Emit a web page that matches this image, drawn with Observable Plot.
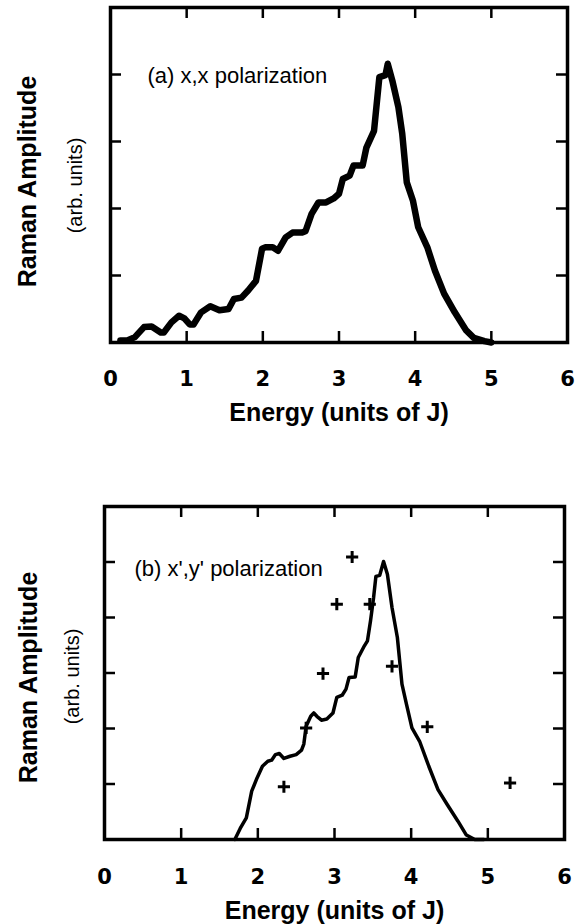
<!DOCTYPE html>
<html><head><meta charset="utf-8">
<script src="https://cdn.jsdelivr.net/npm/d3@7"></script>
<script src="https://cdn.jsdelivr.net/npm/@observablehq/plot@0.6"></script>
<style>body{margin:0;background:#fff} svg{display:block}</style>
</head><body><div id="chart"></div>
<script>
// Tick values
const xTickLabels = [0, 1, 2, 3, 4, 5, 6];
const xInnerTicks = [1, 2, 3, 4, 5];
const yTicksA = [1, 2, 3, 4];
const yTicksB = [1, 2, 3, 4, 5];

// Panel (a): x,x polarization
const energyA = [0.13,0.22,0.32,0.44,0.54,0.66,0.70,0.80,0.90,0.97,1.04,1.09,1.19,1.31,1.43,1.55,1.62,1.72,1.81,1.91,1.99,2.03,2.13,2.20,2.30,2.39,2.51,2.56,2.64,2.73,2.83,2.93,3.00,3.05,3.14,3.19,3.31,3.36,3.46,3.53,3.61,3.64,3.70,3.78,3.83,3.89,3.97,4.04,4.16,4.26,4.38,4.52,4.67,4.77,4.91,5.00];
const ampA    = [0.03,0.03,0.08,0.23,0.24,0.15,0.15,0.30,0.40,0.36,0.27,0.27,0.45,0.54,0.48,0.50,0.65,0.67,0.78,0.92,1.40,1.42,1.42,1.37,1.57,1.64,1.64,1.66,1.92,2.09,2.09,2.15,2.22,2.44,2.49,2.64,2.64,2.91,3.16,3.96,3.99,4.16,3.91,3.51,3.12,2.39,2.12,1.72,1.42,1.07,0.73,0.45,0.18,0.07,0.02,0.00];

// Panel (b): x',y' polarization
const energyB = [1.70,1.77,1.85,1.92,1.99,2.06,2.13,2.18,2.23,2.28,2.34,2.42,2.50,2.57,2.60,2.63,2.69,2.73,2.77,2.83,2.90,2.98,3.03,3.10,3.15,3.19,3.27,3.31,3.39,3.43,3.47,3.51,3.54,3.59,3.64,3.69,3.75,3.82,3.88,3.94,4.01,4.11,4.23,4.35,4.47,4.61,4.72,4.83,4.95];
const ampB    = [0.00,0.20,0.39,0.87,1.11,1.32,1.41,1.43,1.53,1.55,1.46,1.50,1.53,1.61,1.72,2.04,2.22,2.28,2.22,2.15,2.17,2.28,2.56,2.60,2.71,2.92,2.93,3.28,3.49,3.58,3.94,4.36,4.74,4.76,5.01,4.78,4.18,3.64,2.80,2.43,2.01,1.77,1.32,0.90,0.63,0.33,0.08,0.00,0.00];
const crossEnergy = [2.34,2.63,2.85,3.03,3.23,3.46,3.75,4.21,5.29];
const crossAmp    = [0.95,2.01,2.99,4.24,5.09,4.24,3.12,2.03,1.02];

const FONT = "'Liberation Sans', Arial, Helvetica, sans-serif";
const DIGIT_FONT = "'DejaVu Sans', 'Liberation Sans', Arial, sans-serif";

function panel(o) {
  const innerW = o.width - o.ml - o.mr;
  const innerH = o.height - o.mt - o.mb;
  const line = o.energy.map((e, i) => ({e, a: o.amp[i]}));
  const TL = 11, TW = 2.5;
  const marks = [
    Plot.tickX(xInnerTicks, {x: d => d, insetTop: innerH - TL, strokeWidth: TW}),
    Plot.tickX(xInnerTicks, {x: d => d, insetBottom: innerH - TL, strokeWidth: TW}),
    Plot.tickY(o.yTicks, {y: d => d, insetRight: innerW - TL, strokeWidth: TW}),
    Plot.tickY(o.yTicks, {y: d => d, insetLeft: innerW - TL, strokeWidth: TW}),
    Plot.line(line, {x: "e", y: "a", strokeWidth: o.lw, strokeLinejoin: "round", strokeLinecap: "round"}),
    Plot.frame({strokeWidth: 3.5}),
    Plot.text(xTickLabels, {x: d => d, frameAnchor: "bottom", dy: o.tickDy, text: d => String(d), fontSize: 21, fontWeight: "bold", fontFamily: DIGIT_FONT, lineAnchor: "middle"}),
    Plot.text(["Energy (units of J)"], {frameAnchor: "bottom", dy: o.labDy, text: d => d, fontSize: 25, fontWeight: "bold", lineAnchor: "middle"}),
    Plot.text(["Raman Amplitude"], {frameAnchor: "left", dx: o.ramDx, dy: o.ramDy, text: d => d, rotate: -90, fontSize: 25, fontWeight: "bold", textAnchor: "middle", lineAnchor: "middle"}),
    Plot.text(["(arb. units)"], {frameAnchor: "left", dx: o.arbDx, dy: o.arbDy, text: d => d, rotate: -90, fontSize: 20, textAnchor: "middle", lineAnchor: "middle"}),
    Plot.text([o.note], {frameAnchor: "top-left", dx: o.noteDx, dy: o.noteDy, text: d => d, fontSize: 22, textAnchor: "start", lineAnchor: "middle"})
  ];
  if (o.crosses) {
    marks.push(Plot.dot(o.crosses, {x: "e", y: "a", symbol: "plus", r: 4, stroke: "black", strokeWidth: 3}));
  }
  return Plot.plot({
    width: o.width, height: o.height,
    marginTop: o.mt, marginRight: o.mr, marginBottom: o.mb, marginLeft: o.ml,
    x: {domain: [0, 6], axis: null},
    y: {domain: [0, o.yMax], axis: null},
    style: {fontFamily: FONT, background: "white", color: "black", overflow: "visible"},
    marks
  });
}

const chart = document.getElementById("chart");
chart.appendChild(panel({
  width: 580, height: 440, mt: 7, mr: 13, mb: 98, ml: 110,
  yMax: 5, yTicks: yTicksA, energy: energyA, amp: ampA, lw: 6.5,
  tickDy: 37, labDy: 70, ramDx: -83, ramDy: 6.5, arbDx: -35, arbDy: 10.5,
  note: "(a) x,x polarization", noteDx: 37, noteDy: 68
}));
chart.appendChild(panel({
  width: 580, height: 484, mt: 66, mr: 16, mb: 85, ml: 104,
  yMax: 6, yTicks: yTicksB, energy: energyB, amp: ampB, lw: 3.5,
  crosses: crossEnergy.map((e, i) => ({e, a: crossAmp[i]})),
  tickDy: 38, labDy: 71, ramDx: -76, ramDy: 4.5, arbDx: -32, arbDy: 3.5,
  note: "(b) x',y' polarization", noteDx: 30, noteDy: 62
}));
</script>
</body></html>
